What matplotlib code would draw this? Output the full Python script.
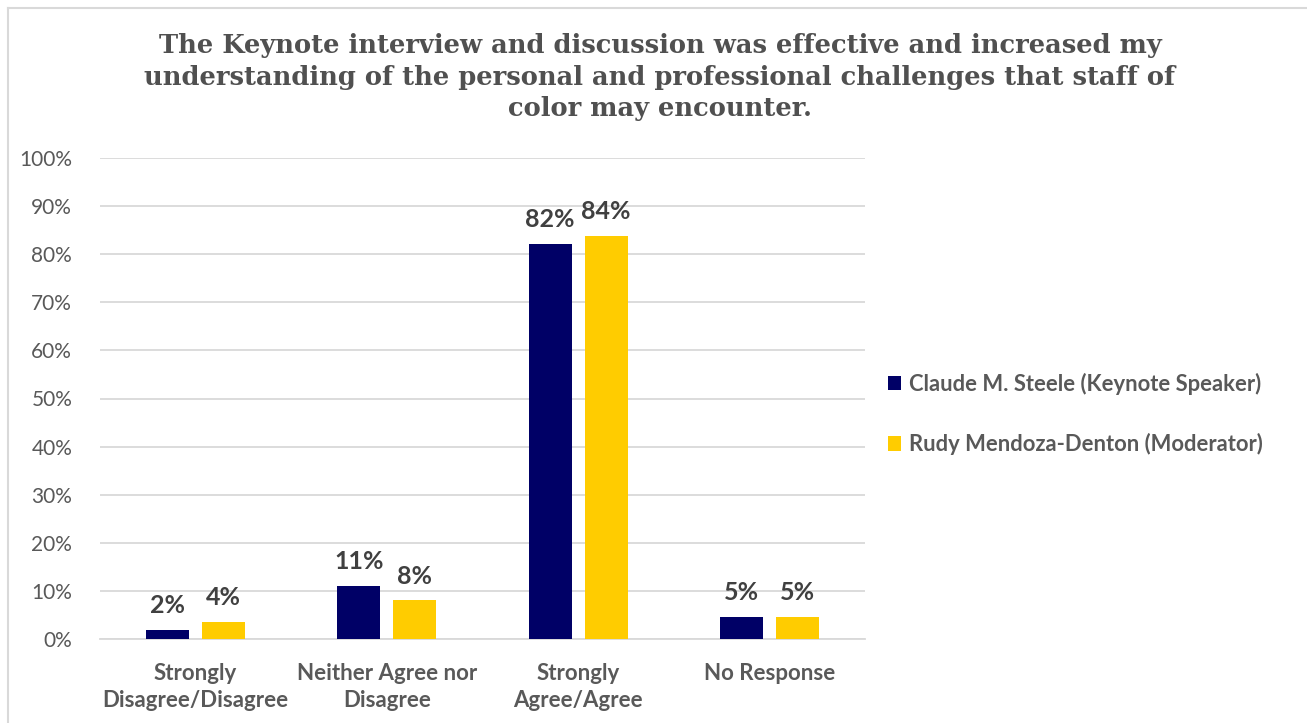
import matplotlib
matplotlib.use("Agg")
import matplotlib.pyplot as plt
import numpy as np
from matplotlib.lines import Line2D
from matplotlib.patches import Patch

categories = ["Strongly\nDisagree/Disagree", "Neither Agree nor\nDisagree",
              "Strongly\nAgree/Agree", "No Response"]
series_names = ["Claude M. Steele (Keynote Speaker)", "Rudy Mendoza-Denton (Moderator)"]
claude = [1.9, 11.1, 82.2, 4.6]
rudy = [3.6, 8.1, 83.8, 4.6]
yticks = [0, 10, 20, 30, 40, 50, 60, 70, 80, 90, 100]
title = ("The Keynote interview and discussion was effective and increased my\n"
         "understanding of the personal and professional challenges that staff of\n"
         "color may encounter.")

colors = ["#000066", "#FFCC00"]
gray = "#595959"
font = "Lato"

fig = plt.figure(figsize=(13.07, 7.23), dpi=100)
ax = fig.add_axes([100/1307, 1-639/723, 765/1307, (639-158)/723])

x = np.arange(len(categories))
w = 0.225
off = 0.146
for vals, c, o, name in [(claude, colors[0], -off, series_names[0]), (rudy, colors[1], off, series_names[1])]:
    bars = ax.bar(x + o, vals, width=w, color=c, zorder=3, label=name)
    for b, v in zip(bars, vals):
        ax.text(b.get_x() + b.get_width()/2, v + 2.6, f"{round(v):d}%", ha="center", va="bottom",
                fontsize=18, fontweight="bold", color="#404040", family=font)

ax.set_xlim(-0.5, 3.5)
ax.set_ylim(0, 100)
ax.set_yticks(yticks)
ax.set_yticklabels([f"{t}%" for t in yticks], fontsize=15, color=gray, family=font)
ax.set_xticks(x)
ax.set_xticklabels(categories, fontsize=16, fontweight="bold", color=gray, family=font, linespacing=1.35)
ax.tick_params(axis="x", length=0, pad=17)
ax.tick_params(axis="y", length=0, pad=20)
ax.grid(axis="y", color="#d9d9d9", linewidth=1.3, zorder=0)
for s in ["top", "right", "left"]:
    ax.spines[s].set_visible(False)
ax.spines["bottom"].set_color("#d9d9d9")
ax.spines["bottom"].set_linewidth(1.3)

fig.text(660/1307, 1-33/723, title, ha="center", va="top", fontsize=18.5, fontweight="bold",
         color="#505050", family="DejaVu Serif", linespacing=1.33)

handles = [Patch(facecolor=colors[0]), Patch(facecolor=colors[1])]
leg = fig.legend(handles, series_names, loc="center left", bbox_to_anchor=(868/1307, 1-414/723),
                 frameon=False, handlelength=0.62, handleheight=0.62, handletextpad=0.35,
                 labelspacing=1.75, prop={"family": font, "weight": "bold", "size": 15.8})
for t in leg.get_texts():
    t.set_color(gray)

# outer border (top and left)
fig.add_artist(Line2D([8/1307, 8/1307], [0, 1-8/723], transform=fig.transFigure, color="#d9d9d9", linewidth=1.5))
fig.add_artist(Line2D([8/1307, 1], [1-8/723, 1-8/723], transform=fig.transFigure, color="#d9d9d9", linewidth=1.5))

fig.savefig("out.png", dpi=100)
